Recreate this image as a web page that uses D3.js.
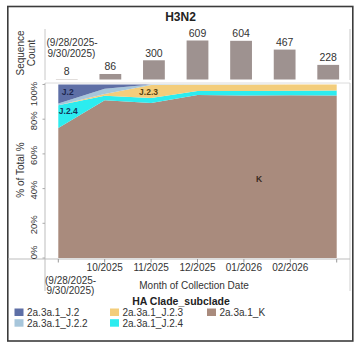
<!DOCTYPE html>
<html>
<head>
<meta charset="utf-8">
<script src="https://cdn.jsdelivr.net/npm/d3@7"></script>
<style>
  html, body { margin: 0; padding: 0; background: #fff; }
  svg { display: block; font-family: "Liberation Sans", Arial, sans-serif; }
</style>
</head>
<body>
<svg id="chart" width="359" height="349"></svg>
<script>
// Collection periods (first one is a partial month)
const periods = ["2025-09", "2025-10", "2025-11", "2025-12", "2026-01", "2026-02", "2026-03"];
const sequenceCounts = [8, 86, 300, 609, 604, 467, 228];
const monthTickLabels = ["", "10/2025", "11/2025", "12/2025", "01/2026", "02/2026", ""];
const firstPeriodLabel = ["(9/28/2025-", "9/30/2025)"];

// Clade shares (% of total) per period
const clades = ["2a.3a.1_J.2", "2a.3a.1_J.2.2", "2a.3a.1_J.2.3", "2a.3a.1_J.2.4", "2a.3a.1_K"];
const shareJ2   = [11.0, 2.5, 0.0, 0.0, 0.0, 0.0, 0.0];
const shareJ22  = [1.0,  3.0, 0.3, 0.2, 0.1, 0.0, 0.0];
const shareJ23  = [0.0,  1.0, 7.5, 3.6, 3.6, 3.6, 3.4];
const shareJ24  = [13.0, 2.6, 2.9, 2.3, 2.6, 2.6, 3.0];
const shareK    = [75.0, 90.9, 89.3, 93.9, 93.7, 93.8, 93.6];
const cladeColors = ["#5e6fa6", "#a7c6db", "#f3cd7b", "#2cecef", "#a98b7d"];
const percentTicks = [0, 20, 40, 60, 80, 100];

const rows = periods.map((p, i) => ({
  period: p,
  "2a.3a.1_J.2": shareJ2[i],
  "2a.3a.1_J.2.2": shareJ22[i],
  "2a.3a.1_J.2.3": shareJ23[i],
  "2a.3a.1_J.2.4": shareJ24[i],
  "2a.3a.1_K": shareK[i]
}));

const svg = d3.select("#chart");
const color = d3.scaleOrdinal().domain(clades).range(cladeColors);
const textColor = "#333";

// Outer frame
svg.append("rect")
  .attr("x", 7.8).attr("y", 6.5).attr("width", 345).attr("height", 334.5)
  .attr("fill", "none").attr("stroke", "#3c3c3c").attr("stroke-width", 1.6);

// Title
svg.append("text").attr("x", 180.5).attr("y", 20.5)
  .attr("text-anchor", "middle").attr("font-size", 12).attr("font-weight", "bold")
  .attr("fill", "#222").text("H3N2");

// ---------- Sequence count bars ----------
const barLeft = 45, barRight = 350, barBase = 79.5;
const xBand = d3.scaleBand().domain(periods).range([barLeft, barRight]).paddingInner(0.5).paddingOuter(0.25);
const yCount = d3.scaleLinear().domain([0, 609]).range([barBase, 40.5]);

// panel lines
svg.append("line").attr("x1", barLeft).attr("x2", barLeft).attr("y1", 29).attr("y2", 80)
  .attr("stroke", "#c8c8c8").attr("stroke-width", 1);
svg.append("line").attr("x1", barRight).attr("x2", barRight).attr("y1", 29).attr("y2", 80)
  .attr("stroke", "#c8c8c8").attr("stroke-width", 1);

svg.append("g").selectAll("rect").data(periods).join("rect")
  .attr("x", d => xBand(d))
  .attr("width", xBand.bandwidth())
  .attr("y", (d, i) => yCount(sequenceCounts[i]))
  .attr("height", (d, i) => Math.max(0.8, barBase - yCount(sequenceCounts[i])))
  .attr("fill", (d, i) => i === 0 ? "#d9d4d2" : "#9e9290");

svg.append("g").selectAll("text").data(periods).join("text")
  .attr("x", d => xBand(d) + xBand.bandwidth() / 2)
  .attr("y", (d, i) => yCount(sequenceCounts[i]) - 3.5)
  .attr("text-anchor", "middle").attr("font-size", 10.5).attr("fill", textColor)
  .text((d, i) => sequenceCounts[i]);

// partial-period note above the first bar
const note = svg.append("text").attr("font-size", 10).attr("fill", textColor);
firstPeriodLabel.forEach((t, i) => {
  note.append("tspan").attr("x", 46.5 + i).attr("y", 46 + i * 11).text(t);
});

// y title for bars
const seqTitle = svg.append("text").attr("transform", "translate(24,53) rotate(-90)")
  .attr("text-anchor", "middle").attr("font-size", 10).attr("fill", textColor);
seqTitle.append("tspan").attr("x", 0).attr("y", 0).text("Sequence");
seqTitle.append("tspan").attr("x", 0).attr("y", 11).text("Count");

// ---------- Clade share area ----------
const areaTop = 84.5, areaBottom = 258;
const xPoint = d3.scalePoint().domain(periods).range([58.3, 336.7]);
const yPct = d3.scaleLinear().domain([0, 100]).range([areaBottom, areaTop]);

// panel lines
svg.append("line").attr("x1", 45).attr("x2", 350).attr("y1", 83).attr("y2", 83)
  .attr("stroke", "#dcdcdc");
svg.append("line").attr("x1", 45).attr("x2", 45).attr("y1", 83).attr("y2", 291)
  .attr("stroke", "#bdbdbd");
svg.append("line").attr("x1", 350).attr("x2", 350).attr("y1", 83).attr("y2", 291)
  .attr("stroke", "#cfcfcf");
svg.append("line").attr("x1", 8).attr("x2", 350).attr("y1", 259).attr("y2", 259)
  .attr("stroke", "#bdbdbd");

const stackOrder = ["2a.3a.1_K", "2a.3a.1_J.2.4", "2a.3a.1_J.2.3", "2a.3a.1_J.2.2", "2a.3a.1_J.2"];
const series = d3.stack().keys(stackOrder)(rows);
const area = d3.area()
  .x(d => xPoint(d.data.period))
  .y0(d => yPct(d[0]))
  .y1(d => yPct(d[1]));

svg.append("g").selectAll("path").data(series).join("path")
  .attr("d", area)
  .attr("fill", d => color(d.key));

// y axis ticks and rotated labels, end labels kept inside the panel
const yTicks = svg.append("g");
yTicks.selectAll("line").data(percentTicks).join("line")
  .attr("x1", 42.5).attr("x2", 45).attr("y1", d => yPct(d)).attr("y2", d => yPct(d))
  .attr("stroke", "#aaa");
yTicks.selectAll("text").data(percentTicks).join("text")
  .attr("font-size", 9.5).attr("fill", textColor).attr("text-anchor", "middle")
  .attr("transform", function (d) {
    const label = d + "%";
    const half = label.length * 2.75;
    const cy = Math.max(areaTop + half - 1.5, Math.min(areaBottom - half, yPct(d) + 1.5));
    return `translate(36.5,${cy}) rotate(-90)`;
  })
  .text(d => d + "%");

svg.append("text").attr("transform", "translate(24,170) rotate(-90)")
  .attr("text-anchor", "middle").attr("font-size", 10).attr("fill", textColor)
  .text("% of Total %");

// x axis ticks and labels
const xAxis = svg.append("g");
xAxis.selectAll("line").data(periods).join("line")
  .attr("x1", d => xPoint(d)).attr("x2", d => xPoint(d))
  .attr("y1", 259).attr("y2", 262.5).attr("stroke", "#999");
xAxis.selectAll("text").data(periods).join("text")
  .attr("x", d => xPoint(d)).attr("y", 271)
  .attr("text-anchor", "middle").attr("font-size", 10).attr("fill", textColor)
  .text((d, i) => monthTickLabels[i]);

const firstTick = svg.append("text").attr("font-size", 10).attr("fill", textColor);
firstPeriodLabel.forEach((t, i) => {
  firstTick.append("tspan").attr("x", 45 + i * 1.5).attr("y", 284 + i * 10).text(t);
});

svg.append("text").attr("x", 194).attr("y", 288.5)
  .attr("text-anchor", "middle").attr("font-size", 10).attr("fill", textColor)
  .text("Month of Collection Date");

// in-area clade labels
const inlineLabels = [
  { text: "J.2",   x: xPoint(periods[0]) + 3.5, y: 94.5,  fill: "#1d2750" },
  { text: "J.2.4", x: xPoint(periods[0]) + 0.5, y: 114,   fill: "#14365a" },
  { text: "J.2.3", x: xPoint(periods[2]) - 12,  y: 95,    fill: "#5a4310" },
  { text: "K",     x: xPoint(periods[4]) + 12,  y: 182,   fill: "#3a2a22" }
];
svg.append("g").selectAll("text").data(inlineLabels).join("text")
  .attr("x", d => d.x).attr("y", d => d.y)
  .attr("font-size", 8.5).attr("font-weight", "bold").attr("fill", d => d.fill)
  .text(d => d.text);

// ---------- Legend ----------
svg.append("text").attr("x", 181).attr("y", 305)
  .attr("text-anchor", "middle").attr("font-size", 10.5).attr("font-weight", "bold")
  .attr("fill", "#222").text("HA Clade_subclade");

const legendItems = [
  { key: "2a.3a.1_J.2",   col: 0, row: 0 },
  { key: "2a.3a.1_J.2.2", col: 0, row: 1 },
  { key: "2a.3a.1_J.2.3", col: 1, row: 0 },
  { key: "2a.3a.1_J.2.4", col: 1, row: 1 },
  { key: "2a.3a.1_K",     col: 2, row: 0 }
];
const colX = [14.5, 110, 207];
const legend = svg.append("g").selectAll("g").data(legendItems).join("g")
  .attr("transform", d => `translate(${colX[d.col]},${308.5 + d.row * 10.7})`);
legend.append("rect").attr("width", 9).attr("height", 7.5).attr("fill", d => color(d.key));
legend.append("text").attr("x", 12.5).attr("y", 7.3)
  .attr("font-size", 10).attr("fill", textColor).text(d => d.key);
</script>
</body>
</html>
